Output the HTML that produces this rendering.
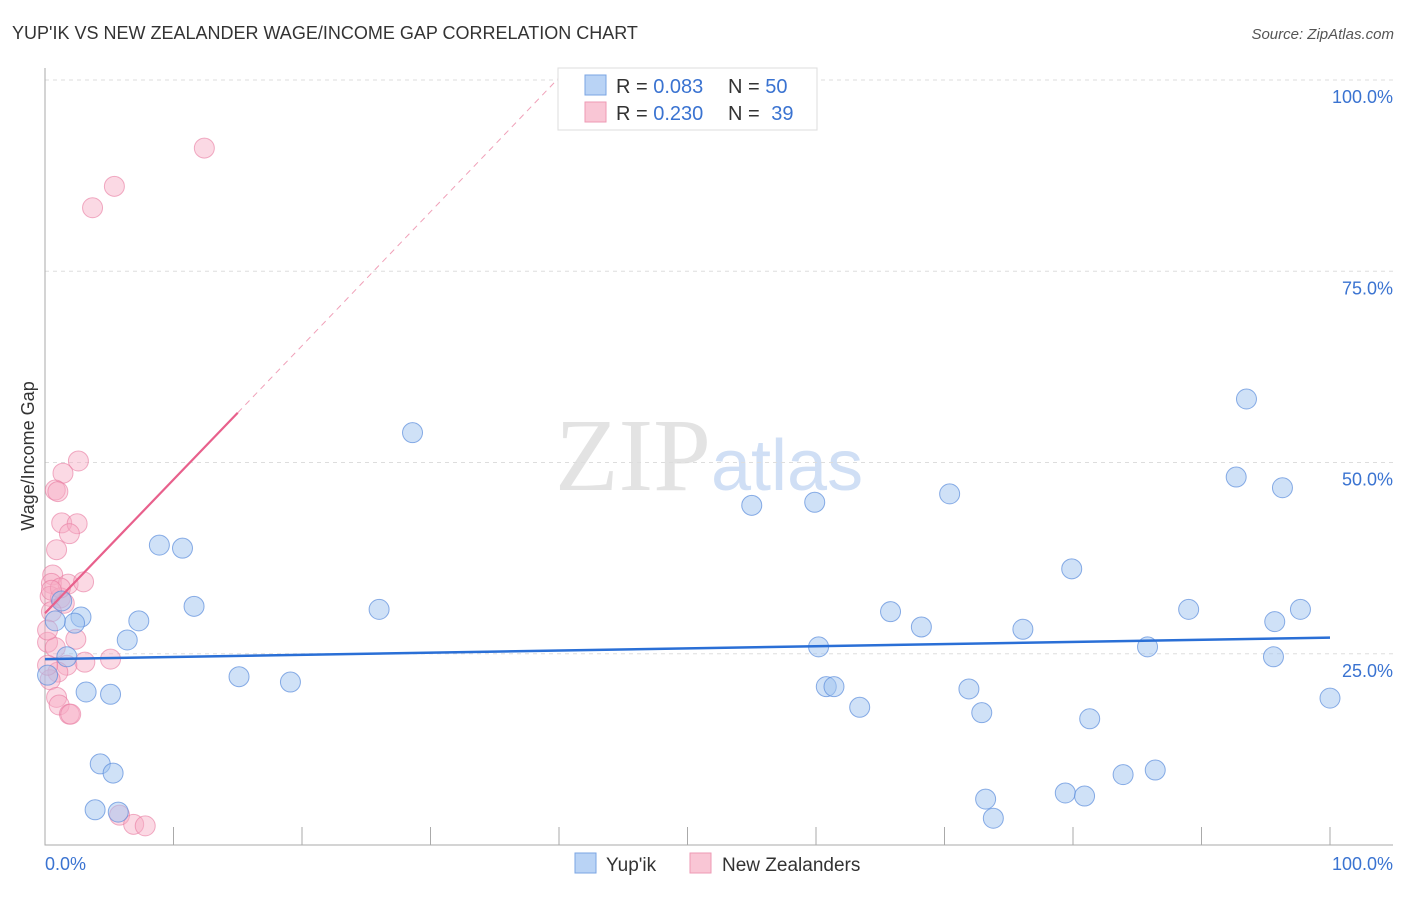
<!DOCTYPE html>
<html><head><meta charset="utf-8"><style>
body{margin:0;background:#fff;font-family:"Liberation Sans",sans-serif;}
</style></head><body>
<svg width="1406" height="892" viewBox="0 0 1406 892" xmlns="http://www.w3.org/2000/svg" id="svg">
<text x="12" y="39" font-size="18" fill="#333">YUP'IK VS NEW ZEALANDER WAGE/INCOME GAP CORRELATION CHART</text>
<text x="1394" y="39" font-size="15" fill="#555" text-anchor="end" font-style="italic">Source: ZipAtlas.com</text>
<text x="555" y="490" font-size="104" font-family="Liberation Serif" fill="#ddd" opacity="0.8">ZIP<tspan fill="#c5d8f3" font-family="Liberation Sans" font-size="72">atlas</tspan></text>
<text transform="translate(34,456) rotate(-90)" font-size="18" fill="#333" text-anchor="middle">Wage/Income Gap</text>
<g id="grid"></g><g id="marks"></g>
<g>
<rect x="558" y="68" width="259" height="62" fill="#fff" stroke="#ddd"/>
<rect x="585" y="75" width="21" height="20" fill="#b9d3f5" stroke="#7aa5e3"/>
<rect x="585" y="102" width="21" height="20" fill="#f9c6d5" stroke="#ee9ab4"/>
<text x="616" y="93" font-size="20" fill="#333">R = <tspan fill="#3a73d1">0.083</tspan></text>
<text x="728" y="93" font-size="20" fill="#333">N = <tspan fill="#3a73d1">50</tspan></text>
<text x="616" y="120" font-size="20" fill="#333">R = <tspan fill="#3a73d1">0.230</tspan></text>
<text x="728" y="120" font-size="20" fill="#333">N = <tspan fill="#3a73d1" dx="6">39</tspan></text>
</g>
<g>
<rect x="575" y="853" width="21" height="20" fill="#b9d3f5" stroke="#7aa5e3"/>
<text x="606" y="871" font-size="19" fill="#333">Yup'ik</text>
<rect x="690" y="853" width="21" height="20" fill="#f9c6d5" stroke="#ee9ab4"/>
<text x="722" y="871" font-size="19" fill="#333">New Zealanders</text>
</g>
</svg>
<script>
const blueX=[28.6,55.0,59.9,70.4,93.5,92.7,96.3,8.9,10.7,11.6,26.0,7.3,6.4,2.8,2.3,0.8,1.7,0.2,3.2,5.1,15.1,19.1,4.3,5.3,3.9,5.7,60.2,60.8,61.4,63.4,65.8,68.2,71.9,72.9,76.1,79.9,81.3,83.9,86.4,73.2,73.8,79.4,80.9,85.8,89.0,95.7,95.6,97.7,100,1.3];
const blueY=[53.9,44.4,44.8,45.9,58.3,48.1,46.7,39.2,38.8,31.2,30.8,29.3,26.8,29.8,29.0,29.3,24.6,22.2,20.0,19.7,22.0,21.3,10.6,9.4,4.6,4.3,25.9,20.7,20.7,18.0,30.5,28.5,20.4,17.3,28.2,36.1,16.5,9.2,9.8,6.0,3.5,6.8,6.4,25.9,30.8,29.2,24.6,30.8,19.2,31.9];
const pinkX=[12.4,5.4,3.7,2.6,1.4,0.8,1.0,1.3,2.5,1.9,0.9,0.6,0.5,1.8,3.0,0.4,1.2,1.5,0.5,2.4,0.2,0.8,3.1,5.1,1.7,1.0,0.4,0.9,1.1,1.9,2.0,5.8,6.9,7.8,0.2,1.2,0.5,0.2];
const pinkY=[91.1,86.1,83.3,50.2,48.6,46.4,46.2,42.1,42.0,40.7,38.6,35.3,34.2,34.1,34.4,32.5,32.3,31.6,30.5,26.9,26.5,25.8,23.9,24.3,23.5,22.6,21.6,19.3,18.3,17.1,17.1,3.9,2.7,2.5,28.1,33.6,33.3,23.5];
const blueTrend=[24.3,27.1];
const pinkTrend=[30.3,56.5,100.3];
const pinkTrendX=[0,15,40];
const yTicks=[100,75,50,25];
const yTickLabels=["100.0%","75.0%","50.0%","25.0%"];
const NS="http://www.w3.org/2000/svg";
const X=v=>45+v*12.85, Y=v=>845-v*7.65;
function mk(t,a,p){const e=document.createElementNS(NS,t);for(const k in a)e.setAttribute(k,a[k]);p.appendChild(e);return e;}
const g=document.getElementById('grid'), m=document.getElementById('marks');
yTicks.forEach((t,i)=>{
 const l=mk('line',{x1:45,x2:1393,y1:Y(t),y2:Y(t),stroke:'#ddd','stroke-dasharray':'4,4'},g);
 
 
 const tx=mk('text',{x:1393,y:Y(t)+23,'font-size':18,fill:'#3a73d1','text-anchor':'end'},g);
 tx.textContent=yTickLabels[i];
 
 
});
const ax=mk('path',{d:'M45 68V845H1393',stroke:'#aaa',fill:'none'},g);


for(let i=1;i<=10;i++){const t=mk('line',{x1:X(i*10),x2:X(i*10),y1:845,y2:827,stroke:'#aaa'},g);
 
 }
[[45,'start','0.0%'],[1393,'end','100.0%']].forEach(d=>{const t=mk('text',{x:d[0],y:870,'font-size':18,fill:'#3a73d1','text-anchor':d[1]},g);t.textContent=d[2];
 
 });
pinkX.forEach((v,i)=>{const c=mk('circle',{cx:X(v),cy:Y(pinkY[i]),r:10,fill:'rgba(246,170,195,0.45)',stroke:'rgba(232,120,158,0.6)'},m);
 
 });
blueX.forEach((v,i)=>{const c=mk('circle',{cx:X(v),cy:Y(blueY[i]),r:10,fill:'rgba(160,196,240,0.5)',stroke:'rgba(90,140,220,0.7)'},m);
 
 });
const bt=mk('line',{x1:X(0),x2:X(100),y1:Y(blueTrend[0]),y2:Y(blueTrend[1]),stroke:'#2a6fd6','stroke-width':2.5},m);


const pt=mk('line',{x1:X(pinkTrendX[0]),x2:X(pinkTrendX[1]),y1:Y(pinkTrend[0]),y2:Y(pinkTrend[1]),stroke:'#e8608c','stroke-width':2.2},m);


const pd=mk('line',{x1:X(pinkTrendX[1]),x2:X(pinkTrendX[2]),y1:Y(pinkTrend[1]),y2:Y(pinkTrend[2]),stroke:'#f0a0b8','stroke-width':1,'stroke-dasharray':'6,5'},m);


</script>
</body></html>
